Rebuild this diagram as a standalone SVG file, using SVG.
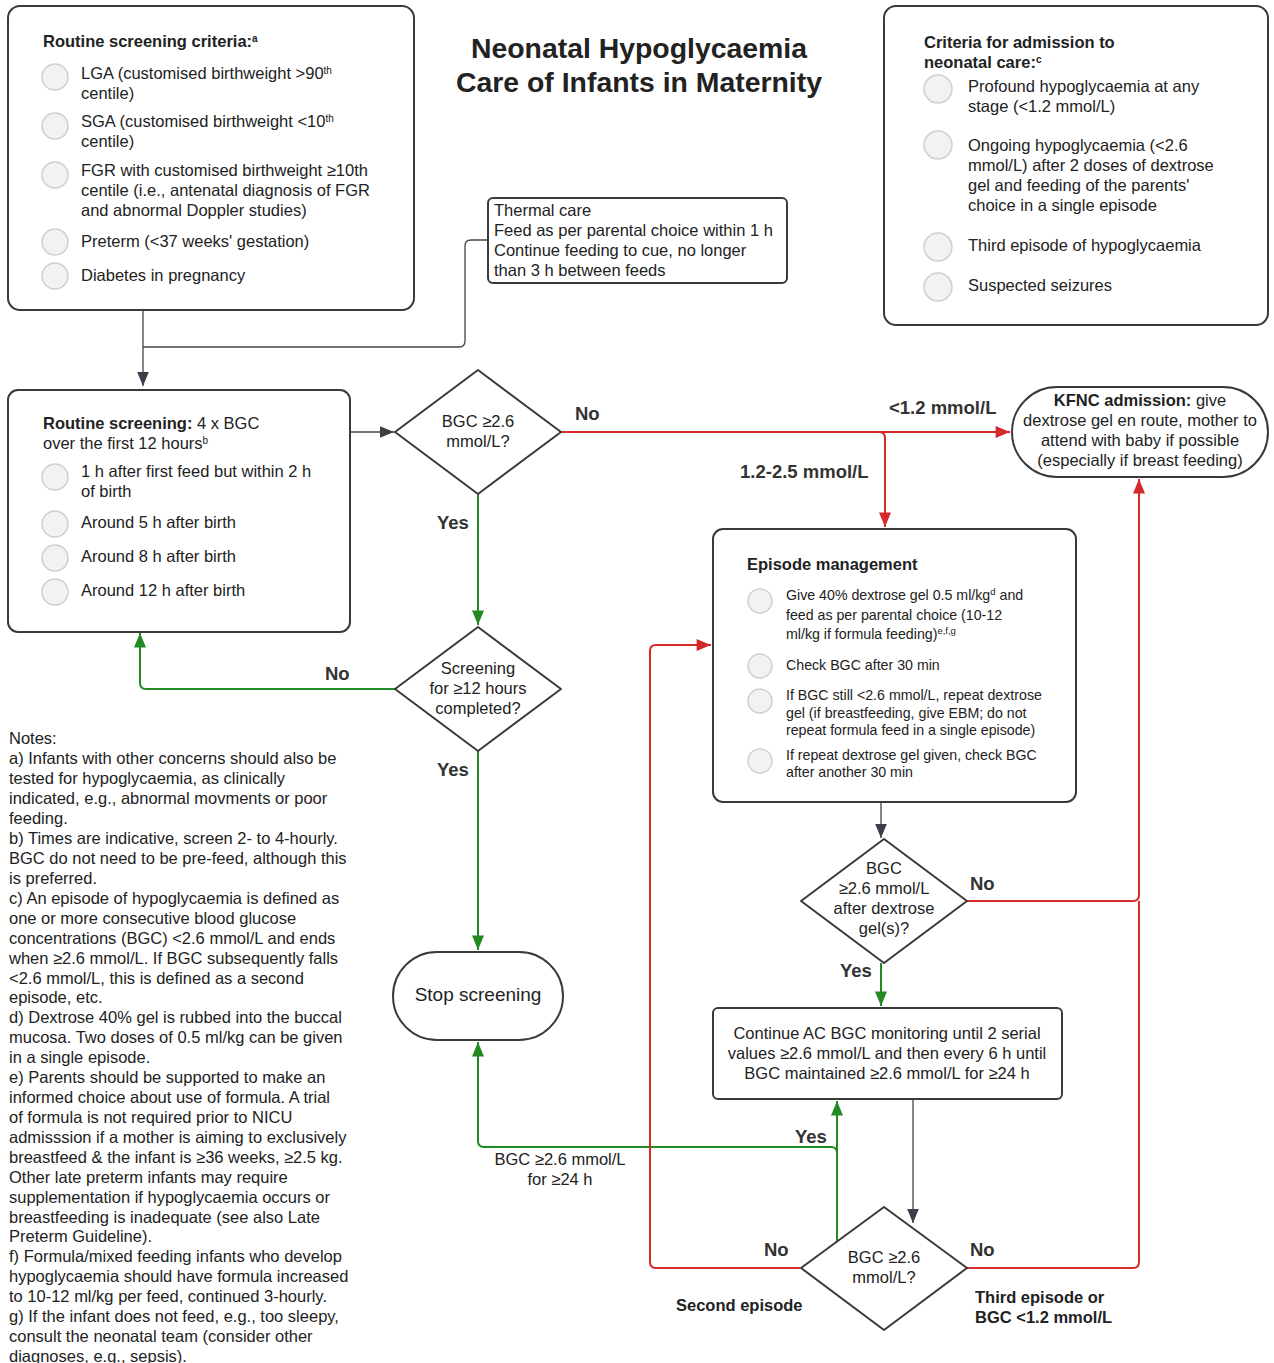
<svg xmlns="http://www.w3.org/2000/svg" width="1274" height="1363" viewBox="0 0 1274 1363">
<style>
text{font-family:"Liberation Sans",Arial,sans-serif;fill:#222;}
.t15{font-size:16.5px;}
.t13{font-size:14.2px;}
.b{font-weight:bold;}
.lbl{font-size:18.5px;font-weight:bold;fill:#333;}
.box{fill:#fff;stroke:#3a3a3a;stroke-width:2;}
.dot{fill:#f2f2f2;stroke:#cfcfcf;stroke-width:1.5;}
.cd{fill:none;stroke:#444;stroke-width:1.3;}
.cr{fill:none;stroke:#d42a2a;stroke-width:2;}
.cg{fill:none;stroke:#238a23;stroke-width:2;}
.mid{text-anchor:middle;}
</style>
<defs>
<marker id="ad" viewBox="0 0 12 10" refX="12" refY="5" markerWidth="14" markerHeight="12" markerUnits="userSpaceOnUse" orient="auto"><path d="M0,0L12,5L0,10z" fill="#3a3f4a"/></marker>
<marker id="ar" viewBox="0 0 12 10" refX="12" refY="5" markerWidth="16" markerHeight="12" markerUnits="userSpaceOnUse" orient="auto"><path d="M0,0L12,5L0,10z" fill="#d42a2a"/></marker>
<marker id="ag" viewBox="0 0 12 10" refX="12" refY="5" markerWidth="16" markerHeight="12" markerUnits="userSpaceOnUse" orient="auto"><path d="M0,0L12,5L0,10z" fill="#238a23"/></marker>
</defs>
<rect width="1274" height="1363" fill="#fff"/>

<g id="title">
<text class="b mid" x="639" y="58" font-size="28.4">Neonatal Hypoglycaemia</text>
<text class="b mid" x="639" y="92" font-size="28.4">Care of Infants in Maternity</text>
</g>

<g id="connectors">
<path class="cd" d="M143,310V386" marker-end="url(#ad)"/>
<path class="cd" d="M488,240H471Q465,240 465,246V341Q465,347 459,347H143"/>
<path class="cd" d="M350,432H394" marker-end="url(#ad)"/>
<path class="cr" d="M561,432H1010" marker-end="url(#ar)"/>
<path class="cr" d="M879,432Q885,432 885,438V527" marker-end="url(#ar)"/>
<path class="cg" d="M478,494V625" marker-end="url(#ag)"/>
<path class="cg" d="M395,689H146Q140,689 140,683V633" marker-end="url(#ag)"/>
<path class="cg" d="M478,751V950" marker-end="url(#ag)"/>
<path class="cd" d="M881,802V838" marker-end="url(#ad)"/>
<path class="cr" d="M967,901H1133Q1139,901 1139,895V479" marker-end="url(#ar)"/>
<path class="cg" d="M881,963V1006" marker-end="url(#ag)"/>
<path class="cd" d="M913,1099V1223" marker-end="url(#ad)"/>
<path class="cg" d="M837,1242V1101" marker-end="url(#ag)"/>
<path class="cg" d="M837,1153Q837,1147 831,1147H484Q478,1147 478,1141V1042" marker-end="url(#ag)"/>
<path class="cr" d="M800,1268H656Q650,1268 650,1262V651Q650,645 656,645H711" marker-end="url(#ar)"/>
<path class="cr" d="M967,1268H1133Q1139,1268 1139,1262V901"/>
</g>

<g id="connector-labels">
<text class="lbl" x="575" y="420">No</text>
<text class="lbl" x="889" y="414">&lt;1.2 mmol/L</text>
<text class="lbl" x="740" y="478">1.2-2.5 mmol/L</text>
<text class="lbl" x="437" y="529">Yes</text>
<text class="lbl" x="325" y="680">No</text>
<text class="lbl" x="437" y="776">Yes</text>
<text class="lbl" x="970" y="890">No</text>
<text class="lbl" x="840" y="977">Yes</text>
<text class="lbl" x="795" y="1143">Yes</text>
<text class="t15 mid" x="560" y="1165">BGC ≥2.6 mmol/L</text>
<text class="t15 mid" x="560" y="1185">for ≥24 h</text>
<text class="lbl" x="764" y="1256">No</text>
<text class="lbl" x="970" y="1256">No</text>
<text class="b" x="676" y="1311" font-size="16.5">Second episode</text>
<text class="b" x="975" y="1303" font-size="16.5">Third episode or</text>
<text class="b" x="975" y="1323" font-size="16.5">BGC &lt;1.2 mmol/L</text>
</g>

<g id="screening-criteria">
<rect class="box" x="8" y="6" width="406" height="304" rx="12"/>
<text class="t15 b" x="43" y="47">Routine screening criteria:<tspan font-size="10" dy="-5">a</tspan></text>
<circle class="dot" cx="55" cy="77" r="13"/>
<circle class="dot" cx="55" cy="126" r="13"/>
<circle class="dot" cx="55" cy="175" r="13"/>
<circle class="dot" cx="55" cy="242" r="13"/>
<circle class="dot" cx="55" cy="276" r="13"/>
<text class="t15" x="81" y="79">LGA (customised birthweight &gt;90<tspan font-size="10" dy="-5">th</tspan></text>
<text class="t15" x="81" y="99">centile)</text>
<text class="t15" x="81" y="127">SGA (customised birthweight &lt;10<tspan font-size="10" dy="-5">th</tspan></text>
<text class="t15" x="81" y="147">centile)</text>
<text class="t15" x="81" y="176">FGR with customised birthweight ≥10th</text>
<text class="t15" x="81" y="196">centile (i.e., antenatal diagnosis of FGR</text>
<text class="t15" x="81" y="216">and abnormal Doppler studies)</text>
<text class="t15" x="81" y="247">Preterm (&lt;37 weeks' gestation)</text>
<text class="t15" x="81" y="281">Diabetes in pregnancy</text>
</g>

<g id="thermal-care">
<rect class="box" x="488" y="198" width="299" height="85" rx="5"/>
<text class="t15" x="494" y="216">Thermal care</text>
<text class="t15" x="494" y="236">Feed as per parental choice within 1 h</text>
<text class="t15" x="494" y="256">Continue feeding to cue, no longer</text>
<text class="t15" x="494" y="276">than 3 h between feeds</text>
</g>

<g id="admission-criteria">
<rect class="box" x="884" y="6" width="384" height="319" rx="12"/>
<text class="t15 b" x="924" y="48">Criteria for admission to</text>
<text class="t15 b" x="924" y="68">neonatal care:<tspan font-size="10" dy="-5">c</tspan></text>
<circle class="dot" cx="938" cy="89" r="14"/>
<circle class="dot" cx="938" cy="145" r="14"/>
<circle class="dot" cx="938" cy="247" r="14"/>
<circle class="dot" cx="938" cy="287" r="14"/>
<text class="t15" x="968" y="92">Profound hypoglycaemia at any</text>
<text class="t15" x="968" y="112">stage (&lt;1.2 mmol/L)</text>
<text class="t15" x="968" y="151">Ongoing hypoglycaemia (&lt;2.6</text>
<text class="t15" x="968" y="171">mmol/L) after 2 doses of dextrose</text>
<text class="t15" x="968" y="191">gel and feeding of the parents'</text>
<text class="t15" x="968" y="211">choice in a single episode</text>
<text class="t15" x="968" y="251">Third episode of hypoglycaemia</text>
<text class="t15" x="968" y="291">Suspected seizures</text>
</g>

<g id="routine-screening">
<rect class="box" x="8" y="390" width="342" height="242" rx="10"/>
<text class="t15" x="43" y="429"><tspan class="b">Routine screening:</tspan> 4 x BGC</text>
<text class="t15" x="43" y="449">over the first 12 hours<tspan font-size="10" dy="-5">b</tspan></text>
<circle class="dot" cx="55" cy="477" r="13"/>
<circle class="dot" cx="55" cy="524" r="13"/>
<circle class="dot" cx="55" cy="558" r="13"/>
<circle class="dot" cx="55" cy="592" r="13"/>
<text class="t15" x="81" y="477">1 h after first feed but within 2 h</text>
<text class="t15" x="81" y="497">of birth</text>
<text class="t15" x="81" y="528">Around 5 h after birth</text>
<text class="t15" x="81" y="562">Around 8 h after birth</text>
<text class="t15" x="81" y="596">Around 12 h after birth</text>
</g>

<g id="decision-bgc">
<path class="box" d="M478,370L561,432L478,494L395,432Z" stroke-linejoin="round"/>
<text class="t15 mid" x="478" y="427">BGC ≥2.6</text>
<text class="t15 mid" x="478" y="447">mmol/L?</text>
</g>

<g id="decision-12h">
<path class="box" d="M478,627L561,689L478,751L395,689Z" stroke-linejoin="round"/>
<text class="t15 mid" x="478" y="674">Screening</text>
<text class="t15 mid" x="478" y="694">for ≥12 hours</text>
<text class="t15 mid" x="478" y="714">completed?</text>
</g>

<g id="stop-screening">
<rect class="box" x="393" y="952" width="170" height="88" rx="44"/>
<text class="mid" x="478" y="1001" font-size="19">Stop screening</text>
</g>

<g id="kfnc">
<rect class="box" x="1012" y="387" width="256" height="90" rx="45"/>
<text class="t15 mid" x="1140" y="406"><tspan class="b">KFNC admission:</tspan> give</text>
<text class="t15 mid" x="1140" y="426">dextrose gel en route, mother to</text>
<text class="t15 mid" x="1140" y="446">attend with baby if possible</text>
<text class="t15 mid" x="1140" y="466">(especially if breast feeding)</text>
</g>

<g id="episode-management">
<rect class="box" x="713" y="529" width="363" height="273" rx="10"/>
<text class="t15 b" x="747" y="570">Episode management</text>
<circle class="dot" cx="760" cy="601" r="12"/>
<circle class="dot" cx="760" cy="666" r="12"/>
<circle class="dot" cx="760" cy="701" r="12"/>
<circle class="dot" cx="760" cy="761" r="12"/>
<text class="t13" x="786" y="600">Give 40% dextrose gel 0.5 ml/kg<tspan font-size="9.5" dy="-5">d</tspan><tspan dy="5"> and</tspan></text>
<text class="t13" x="786" y="620">feed as per parental choice (10-12</text>
<text class="t13" x="786" y="639">ml/kg if formula feeding)<tspan font-size="9.5" dy="-5">e,f,g</tspan></text>
<text class="t13" x="786" y="670">Check BGC after 30 min</text>
<text class="t13" x="786" y="700">If BGC still &lt;2.6 mmol/L, repeat dextrose</text>
<text class="t13" x="786" y="718">gel (if breastfeeding, give EBM; do not</text>
<text class="t13" x="786" y="735">repeat formula feed in a single episode)</text>
<text class="t13" x="786" y="760">If repeat dextrose gel given, check BGC</text>
<text class="t13" x="786" y="777">after another 30 min</text>
</g>

<g id="decision-after-gel">
<path class="box" d="M884,839L967,901L884,963L801,901Z" stroke-linejoin="round"/>
<text class="t15 mid" x="884" y="874">BGC</text>
<text class="t15 mid" x="884" y="894">≥2.6 mmol/L</text>
<text class="t15 mid" x="884" y="914">after dextrose</text>
<text class="t15 mid" x="884" y="934">gel(s)?</text>
</g>

<g id="continue-monitoring">
<rect class="box" x="713" y="1008" width="349" height="91" rx="5"/>
<text class="t15 mid" x="887" y="1039">Continue AC BGC monitoring until 2 serial</text>
<text class="t15 mid" x="887" y="1059">values ≥2.6 mmol/L and then every 6 h until</text>
<text class="t15 mid" x="887" y="1079">BGC maintained ≥2.6 mmol/L for ≥24 h</text>
</g>

<g id="decision-final">
<path class="box" d="M884,1207L967,1268L884,1330L801,1268Z" stroke-linejoin="round"/>
<text class="t15 mid" x="884" y="1263">BGC ≥2.6</text>
<text class="t15 mid" x="884" y="1283">mmol/L?</text>
</g>

<g id="notes">
<text class="t15" x="9" y="744">Notes:</text>
<text class="t15" x="9" y="764">a) Infants with other concerns should also be</text>
<text class="t15" x="9" y="784">tested for hypoglycaemia, as clinically</text>
<text class="t15" x="9" y="804">indicated, e.g., abnormal movments or poor</text>
<text class="t15" x="9" y="824">feeding.</text>
<text class="t15" x="9" y="844">b) Times are indicative, screen 2- to 4-hourly.</text>
<text class="t15" x="9" y="864">BGC do not need to be pre-feed, although this</text>
<text class="t15" x="9" y="884">is preferred.</text>
<text class="t15" x="9" y="904">c) An episode of hypoglycaemia is defined as</text>
<text class="t15" x="9" y="924">one or more consecutive blood glucose</text>
<text class="t15" x="9" y="944">concentrations (BGC) &lt;2.6 mmol/L and ends</text>
<text class="t15" x="9" y="964">when ≥2.6 mmol/L. If BGC subsequently falls</text>
<text class="t15" x="9" y="984">&lt;2.6 mmol/L, this is defined as a second</text>
<text class="t15" x="9" y="1003">episode, etc.</text>
<text class="t15" x="9" y="1023">d) Dextrose 40% gel is rubbed into the buccal</text>
<text class="t15" x="9" y="1043">mucosa. Two doses of 0.5 ml/kg can be given</text>
<text class="t15" x="9" y="1063">in a single episode.</text>
<text class="t15" x="9" y="1083">e) Parents should be supported to make an</text>
<text class="t15" x="9" y="1103">informed choice about use of formula. A trial</text>
<text class="t15" x="9" y="1123">of formula is not required prior to NICU</text>
<text class="t15" x="9" y="1143">admisssion if a mother is aiming to exclusively</text>
<text class="t15" x="9" y="1163">breastfeed &amp; the infant is ≥36 weeks, ≥2.5 kg.</text>
<text class="t15" x="9" y="1183">Other late preterm infants may require</text>
<text class="t15" x="9" y="1203">supplementation if hypoglycaemia occurs or</text>
<text class="t15" x="9" y="1223">breastfeeding is inadequate (see also Late</text>
<text class="t15" x="9" y="1242">Preterm Guideline).</text>
<text class="t15" x="9" y="1262">f) Formula/mixed feeding infants who develop</text>
<text class="t15" x="9" y="1282">hypoglycaemia should have formula increased</text>
<text class="t15" x="9" y="1302">to 10-12 ml/kg per feed, continued 3-hourly.</text>
<text class="t15" x="9" y="1322">g) If the infant does not feed, e.g., too sleepy,</text>
<text class="t15" x="9" y="1342">consult the neonatal team (consider other</text>
<text class="t15" x="9" y="1362">diagnoses, e.g., sepsis).</text>
</g>
</svg>
